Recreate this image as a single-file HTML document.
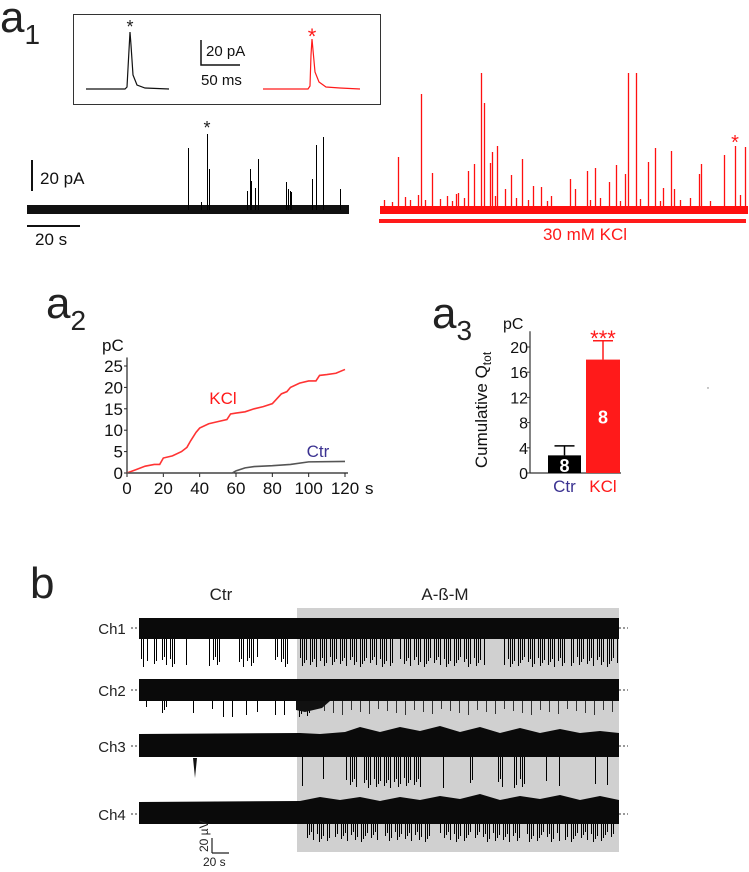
<!DOCTYPE html>
<html><head><meta charset="utf-8">
<style>
html,body{margin:0;padding:0;background:#fff;}
body{width:749px;height:872px;overflow:hidden;font-family:"Liberation Sans",Arial,sans-serif;}
svg{display:block;}
text{font-family:"Liberation Sans",Arial,sans-serif;}
</style></head>
<body>
<svg id="fig" width="749" height="872" viewBox="0 0 749 872" xmlns="http://www.w3.org/2000/svg">
  <text x="0" y="32" font-size="44" fill="#222">a<tspan font-size="28" dy="12">1</tspan></text>
  <text x="46" y="318" font-size="44" fill="#222">a<tspan font-size="28" dy="12">2</tspan></text>
  <text x="432" y="328" font-size="44" fill="#222">a<tspan font-size="28" dy="12">3</tspan></text>
  <text x="30" y="598" font-size="44" fill="#222">b</text>

  <rect x="73.5" y="14.5" width="307" height="90" fill="none" stroke="#333" stroke-width="1"/>
  <path d="M86 89 L125 89 L127 87 L129 50 L130 32 L131 45 L133 75 L137 85 L145 88 L169 89" fill="none" stroke="#111" stroke-width="1.2"/>
  <text x="130" y="33" font-size="18" text-anchor="middle" fill="#222">*</text>
  <path d="M201 40 L201 65 L240 65" fill="none" stroke="#111" stroke-width="1.5"/>
  <text x="206" y="56" font-size="15" fill="#111">20 pA</text>
  <text x="201" y="85" font-size="15" fill="#111">50 ms</text>
  <path d="M263 89 L308 89 L310 86 L311 55 L312 39 L313 50 L315 72 L319 82 L326 87 L340 88 L360 89" fill="none" stroke="#ff1a1a" stroke-width="1.2"/>
  <text x="312" y="44" font-size="22" text-anchor="middle" fill="#ff1a1a">*</text>

  <g id="blackTrace"></g>
  <text x="207" y="134" font-size="18" text-anchor="middle" fill="#222">*</text>
  <line x1="32" y1="160" x2="32" y2="191" stroke="#111" stroke-width="2"/>
  <text x="40" y="184" font-size="17" fill="#111">20 pA</text>
  <line x1="27" y1="226" x2="80" y2="226" stroke="#111" stroke-width="2"/>
  <text x="35" y="245" font-size="17" fill="#111">20 s</text>

  <g id="redTrace"></g>
  <text x="735" y="149" font-size="20" text-anchor="middle" fill="#ff1a1a">*</text>
  <rect x="379" y="219" width="367" height="4" fill="#ff1a1a"/>
  <text x="585" y="240" font-size="17" text-anchor="middle" fill="#ff1a1a">30 mM KCl</text>

  <g id="a2"></g>
  <g id="a3"></g>
  <circle cx="708" cy="388" r="0.7" fill="#777"/>

  <rect x="297" y="608" width="322" height="244" fill="#d0d0d0"/>
  <text x="221" y="600" font-size="17" text-anchor="middle" fill="#222">Ctr</text>
  <text x="445" y="600" font-size="17" text-anchor="middle" fill="#222">A-ß-M</text>
  <g id="bTraces"></g>
  <line x1="212" y1="838" x2="212" y2="853" stroke="#222" stroke-width="1.2"/>
  <line x1="212" y1="853" x2="229" y2="853" stroke="#222" stroke-width="1.2"/>
  <text x="0" y="0" font-size="12" fill="#222" transform="translate(208,852) rotate(-90)">20 µV</text>
  <text x="203" y="866" font-size="12" fill="#222">20 s</text>
</svg>
<script>
const NS='http://www.w3.org/2000/svg';
// ---- a2 data ----
const kclTime=[0,5,10,15,18,20,25,30,33,35,38,40,45,50,55,57,60,65,70,75,80,85,88,90,95,100,104,106,110,115,120];
const kclCharge=[0,0.8,1.6,2,2,3.5,4,5,6,7.5,9.5,10.5,11.5,12,12.5,13.8,14,14.3,15,15.5,16.2,18.5,19,20,21,21.5,21.5,22.8,23,23.3,24.2];
const ctrTime=[0,58,60,65,70,80,90,100,120];
const ctrCharge=[0,0,0.5,1.2,1.5,1.7,2,2.6,2.7];
const a2XTicks=[0,20,40,60,80,100,120];
const a2YTicks=[0,5,10,15,20,25];
// ---- a3 data ----
const barGroups=['Ctr','KCl'];
const barMeans=[2.8,18];
const barErrors=[1.5,3];
const barN=['8','8'];
const a3YTicks=[0,4,8,12,16,20];
// ---- a1 spikes ----
const ctrSpikeX=[188,201,207,209,247,250,251,255,258,286,288,290,291,312,316,323,340];
const ctrSpikeTop=[148,202,134,169,191,169,181,188,159,182,189,191,192,179,145,137,189];
const kclSpikeX=[398,421,432,468,474,481,484,490,492,497,505,511,522,533,541,551,570,575,587,595,609,616,625,628,636,648,655,663,671,674,699,701,724,735,740,745,384,392,405,410,418,425,440,447,452,456,458,464,495,516,528,547,590,600,620,640,660,680,690,710];
const kclSpikeTop=[157,94,173,171,164,73,103,163,152,146,189,175,159,186,187,196,179,189,171,168,182,165,174,73,73,162,148,188,151,189,174,164,155,146,195,147,200,202,197,200,195,200,199,196,201,194,193,198,196,198,200,201,200,198,201,199,201,200,198,201];

function mk(tag,attrs,parent){const e=document.createElementNS(NS,tag);for(const k in attrs)e.setAttribute(k,attrs[k]);parent.appendChild(e);return e;}

const bt=document.getElementById('blackTrace');
let el=mk('rect',{x:27,y:205,width:322,height:9,fill:'#111'},bt);


ctrSpikeX.forEach((x,i)=>{
  const s=mk('line',{x1:x+0.5,x2:x+0.5,y1:210,y2:ctrSpikeTop[i],stroke:'#000','stroke-width':1},bt);
  
  
});
const rt=document.getElementById('redTrace');
el=mk('rect',{x:380,y:206,width:368,height:8,fill:'#ff1010'},rt);


kclSpikeX.forEach((x,i)=>{
  const s=mk('line',{x1:x+0.5,x2:x+0.5,y1:210,y2:kclSpikeTop[i],stroke:'#ff1010','stroke-width':1.3},rt);
  
  
});

// a2
(function(){
  const g=document.getElementById('a2');
  const X0=127,X1=345,Y0=473,Y25=366;
  const xs=t=>X0+(t/120)*(X1-X0);
  const ys=v=>Y0-(v/25)*(Y0-Y25);
  let e=mk('line',{x1:X0,y1:Y0,x2:X1+3,y2:Y0,stroke:'#222','stroke-width':1.2},g);
  
  
  e=mk('line',{x1:X0,y1:Y0,x2:X0,y2:ys(27),stroke:'#222','stroke-width':1.2},g);
  
  
  a2XTicks.forEach(t=>{
    const tk=mk('line',{x1:xs(t),x2:xs(t),y1:Y0,y2:Y0+4,stroke:'#222'},g);
    
    
    const lb=mk('text',{x:xs(t),y:Y0+21,'font-size':17,'text-anchor':'middle',fill:'#111'},g);
    lb.textContent=t;
    
    
  });
  a2YTicks.forEach(v=>{
    const tk=mk('line',{x1:X0-3,x2:X0,y1:ys(v),y2:ys(v),stroke:'#222'},g);
    
    
    const lb=mk('text',{x:X0-4,y:ys(v)+6,'font-size':17,'text-anchor':'end',fill:'#111'},g);
    lb.textContent=v;
    
    
  });
  let t=mk('text',{x:365,y:Y0+21,'font-size':17,fill:'#111'},g);t.textContent='s';
  
  
  t=mk('text',{x:102,y:351,'font-size':17,fill:'#111'},g);t.textContent='pC';
  
  
  let l=mk('polyline',{points:kclTime.map((tt,i)=>xs(tt)+','+ys(kclCharge[i])).join(' '),fill:'none',stroke:'#ff3333','stroke-width':1.6},g);
  
  
  l=mk('polyline',{points:ctrTime.map((tt,i)=>xs(tt)+','+ys(ctrCharge[i])).join(' '),fill:'none',stroke:'#555','stroke-width':1.6},g);
  
  
  t=mk('text',{x:223,y:404,'font-size':17,'text-anchor':'middle',fill:'#ff1a1a'},g);t.textContent='KCl';
  
  
  t=mk('text',{x:318,y:457,'font-size':17,'text-anchor':'middle',fill:'#3b3291'},g);t.textContent='Ctr';
  
  
})();

// a3
(function(){
  const g=document.getElementById('a3');
  const AX=530,Y0=473,Y20=347;
  const ys=v=>Y0-(v/20)*(Y0-Y20);
  const bx=[548,586],bw=[33,34];
  const colors=['#000','#ff1a1a'],labCol=['#3b3291','#ff1a1a'];
  let e=mk('line',{x1:AX,y1:Y0,x2:AX,y2:ys(22.5),stroke:'#333','stroke-width':1.2},g);
  
  
  e=mk('line',{x1:AX,y1:Y0,x2:621,y2:Y0,stroke:'#333','stroke-width':1.2},g);
  
  
  a3YTicks.forEach(v=>{
    const tk=mk('line',{x1:AX-3,x2:AX,y1:ys(v),y2:ys(v),stroke:'#333'},g);
    
    
    const lb=mk('text',{x:AX-2,y:ys(v)+6,'font-size':16,'text-anchor':'end',fill:'#111'},g);
    lb.textContent=v;
    
    
  });
  let t=mk('text',{x:503,y:329,'font-size':16,fill:'#111'},g);t.textContent='pC';
  
  
  t=mk('text',{x:0,y:0,'font-size':17,'text-anchor':'middle',fill:'#111',transform:'translate(487,410) rotate(-90)'},g);
  t.innerHTML='Cumulative Q<tspan font-size="12" dy="4">tot</tspan>';
  
  
  barGroups.forEach((name,i)=>{
    const top=ys(barMeans[i]);
    const et=ys(barMeans[i]+barErrors[i]);
    const cx=bx[i]+bw[i]/2;
    const eb=mk('line',{x1:cx,x2:cx,y1:top,y2:et,stroke:colors[i],'stroke-width':1.5},g);
    
    
    const cap=mk('line',{x1:cx-10,x2:cx+10,y1:et,y2:et,stroke:colors[i],'stroke-width':1.5},g);
    
    
    const r=mk('rect',{x:bx[i],y:top,width:bw[i],height:Y0-top,fill:colors[i]},g);
    
    
    const n=mk('text',{x:cx,y:i===0?Y0-1:ys(barMeans[i]/2)+7,'font-size':18,'font-weight':'bold','text-anchor':'middle',fill:'#fff'},g);
    n.textContent=barN[i];
    
    
    const lb=mk('text',{x:cx,y:Y0+19,'font-size':17,'text-anchor':'middle',fill:labCol[i]},g);
    lb.textContent=name;
    
    
  });
  t=mk('text',{x:603,y:346,'font-size':22,'text-anchor':'middle',fill:'#ff1a1a'},g);t.textContent='***';
  
  
})();

// b traces
const chNames=['Ch1','Ch2','Ch3','Ch4'];
const chY=[628,690,746,814];
const chBandTop=[618,679,735,804];
const chBandBot=[639,701,757,824];
const chDownSegs=[
  [[141,148],[154,157],[162,175],[186,187],[209,220],[239,257],[275,289],[298,393],[400,484],[504,564],[571,618]],
  [[146,147],[162,166],[193,194],[212,213],[223,224],[232,233],[246,247],[257,258],[275,276],[284,285],[295,314]],
  [[302,303],[323,324],[346,357],[364,421],[443,444],[470,473],[498,505],[514,525],[546,547],[559,560],[595,596],[607,608]],
  [[307,330],[335,380],[385,430],[440,470],[475,520],[525,560],[565,614]]
];
const chDownDepth=[667,717,788,842];
const chLightSegs=[[],[[315,618]],[],[]];
const bg=document.getElementById('bTraces');
chNames.forEach((name,c)=>{
  const y=chY[c];
  const lb=mk('text',{x:112,y:y+6,'font-size':15,'text-anchor':'middle',fill:'#222'},bg);
  lb.textContent=name;
  
  
  const dl=mk('line',{x1:131,x2:628,y1:y,y2:y,stroke:'#333','stroke-width':1,'stroke-dasharray':'2,2'},bg);
  
  
  const band=mk('rect',{x:139,y:chBandTop[c],width:480,height:chBandBot[c]-chBandTop[c],fill:'#0a0a0a'},bg);
  
  
  let p='';
  chDownSegs[c].forEach(([a,b],si)=>{
    for(let x=a;x<=b;x+=2){if((x+si)%5===0&&b-a>6)continue;const d=chDownDepth[c]-((x*7+si*3)%11);p+='M'+(x+0.5)+' '+chBandBot[c]+'V'+d;}
  });
  const ds=mk('path',{d:p,stroke:'#000','stroke-width':1,fill:'none'},bg);
  
  
  p='';
  chLightSegs[c].forEach(([a,b])=>{for(let x=a;x<=b;x+=9){p+='M'+(x+0.5)+' '+chBandBot[c]+'V'+(chBandBot[c]+8+(x%7));}});
  const ls=mk('path',{d:p,stroke:'#333','stroke-width':1,fill:'none'},bg);
  
  
});
el=mk('path',{d:'M139 737 L619 737 L619 733 L600 731 L580 733 L560 729 L540 733 L520 728 L500 733 L480 727 L460 732 L440 726 L420 731 L400 727 L380 732 L360 727 L345 732 L320 734 L300 733 L139 734Z',fill:'#0a0a0a'},bg);


el=mk('path',{d:'M139 805 L619 805 L619 800 L600 796 L580 800 L560 795 L540 799 L520 796 L500 800 L480 794 L460 799 L440 796 L420 800 L400 797 L380 801 L360 797 L340 800 L320 797 L300 801 L139 802Z',fill:'#0a0a0a'},bg);


el=mk('path',{d:'M193 758 L195 778 L197 758Z',fill:'#111'},bg);


el=mk('path',{d:'M296 701 L330 701 L322 708 L305 712 L296 710Z',fill:'#111'},bg);


</script>
</body></html>
